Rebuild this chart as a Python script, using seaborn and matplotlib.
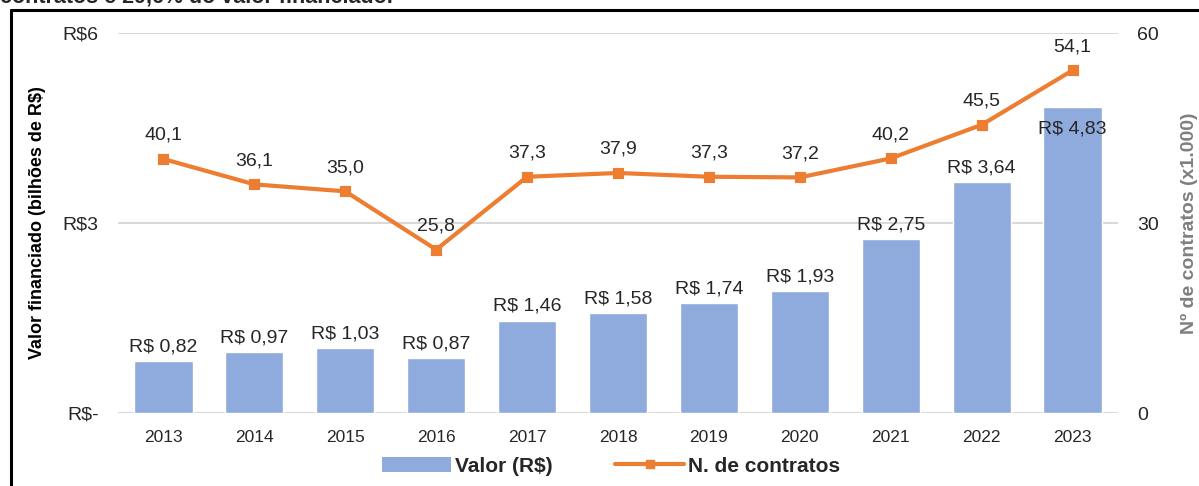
import matplotlib
matplotlib.use("Agg")
import matplotlib.pyplot as plt
import seaborn as sns
import pandas as pd
from matplotlib.patches import Patch
from matplotlib.lines import Line2D

# data
anos = ["2013", "2014", "2015", "2016", "2017", "2018", "2019", "2020", "2021", "2022", "2023"]
valor = [0.82, 0.97, 1.03, 0.87, 1.46, 1.58, 1.74, 1.93, 2.75, 3.64, 4.83]
contratos = [40.1, 36.1, 35.0, 25.8, 37.3, 37.9, 37.3, 37.2, 40.2, 45.5, 54.1]
yticks_left = [0, 3, 6]
yticklabels_left = ["R$-", "R$3", "R$6"]
yticks_right = [0, 30, 60]

df = pd.DataFrame({"ano": anos, "valor": valor, "contratos": contratos})

sns.set_style("white")
plt.rcParams["font.family"] = ["Liberation Sans", "DejaVu Sans"]

azul = "#8FAADC"
laranja = "#ED7D31"
texto = "#262626"

fig = plt.figure(figsize=(11.99, 4.86), dpi=100)
ax = fig.add_axes([118 / 1199, 73 / 486, 1000 / 1199, 380 / 486])

sns.barplot(data=df, x="ano", y="valor", color=azul, width=0.64, saturation=1, ax=ax)
ax.set_ylim(0, 6)
ax.set_xlim(-0.5, len(anos) - 0.5)
ax.set_yticks(yticks_left)
ax.set_yticklabels(yticklabels_left)
ax.yaxis.grid(True, color="#D9D9D9", linewidth=1.5)
ax.set_axisbelow(True)
for s in ax.spines.values():
    s.set_visible(False)
ax.tick_params(axis="y", length=0, pad=14, labelsize=14, labelcolor=texto)
ax.tick_params(axis="x", length=0, pad=12, labelsize=12.5, labelcolor=texto)
ax.set_xlabel("")
ax.set_ylabel("Valor financiado (bilhões de R$)", fontsize=13, fontweight="bold",
              color="black", labelpad=12)

# bar labels
for i, v in enumerate(valor):
    lab = "R$ " + f"{v:.2f}".replace(".", ",")
    if i == len(valor) - 1:
        ax.annotate(lab, (i, v), xytext=(0, -10), textcoords="offset points",
                    ha="center", va="top", fontsize=14, color=texto)
    else:
        ax.annotate(lab, (i, v), xytext=(0, 4), textcoords="offset points",
                    ha="center", va="bottom", fontsize=14, color=texto)

ax2 = ax.twinx()
sns.pointplot(data=df, x="ano", y="contratos", color=laranja, markers="s",
              markersize=6, linewidth=3, ax=ax2)
ax2.set_ylim(0, 60)
ax2.set_xlim(-0.5, len(anos) - 0.5)
ax2.set_yticks(yticks_right)
for s in ax2.spines.values():
    s.set_visible(False)
ax2.tick_params(axis="y", length=0, pad=14, labelsize=14, labelcolor=texto)
ax2.set_ylabel("Nº de contratos (x1.000)", fontsize=14, fontweight="bold",
               color="#7F7F7F", labelpad=16)
ax2.set_xlabel("")

for i, v in enumerate(contratos):
    ax2.annotate(f"{v:.1f}".replace(".", ","), (i, v), xytext=(0, 11),
                 textcoords="offset points", ha="center", va="bottom",
                 fontsize=14, color=texto)

handles = [Patch(facecolor=azul, edgecolor="none"),
           Line2D([0], [0], color=laranja, linewidth=3, marker="s", markersize=6)]
fig.legend(handles, ["Valor (R$)", "N. de contratos"], loc="center",
           bbox_to_anchor=(0.51, 20 / 486), ncol=2, frameon=False,
           prop={"weight": "bold", "size": 15}, handlelength=3.3,
           columnspacing=3.0, handletextpad=0.2)

# frame and cut-off text from the page
fig.add_artist(Line2D([11 / 1199, 11 / 1199], [0, 476 / 486], color="black",
                      linewidth=2.2, transform=fig.transFigure))
fig.add_artist(Line2D([11 / 1199, 1], [476 / 486, 476 / 486], color="black",
                      linewidth=2.2, transform=fig.transFigure))
fig.text(0, 484 / 486, "contratos e 29,6% do valor financiado.",
         fontsize=15.5, fontweight="bold", ha="left", va="baseline")

fig.savefig("out.png", dpi=100)
